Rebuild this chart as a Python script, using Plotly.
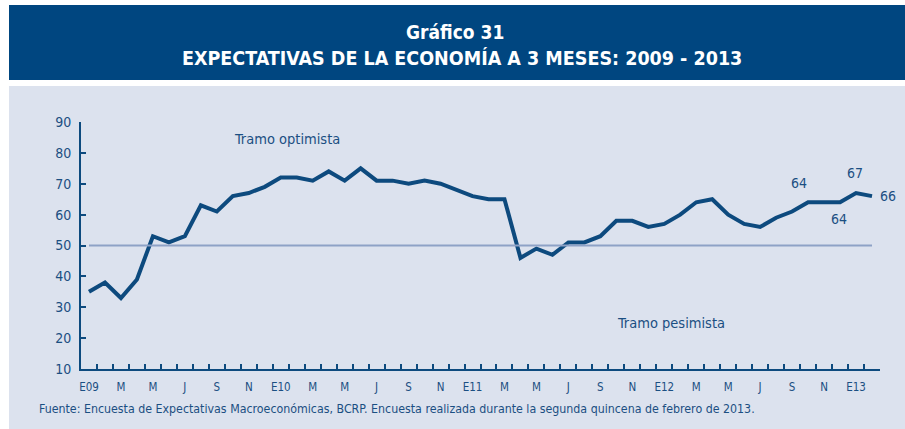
import plotly.graph_objects as go

# ---- data ----
months = [f"m{i}" for i in range(50)]  # Jan 2009 .. Feb 2013
values = [35, 38, 33, 39, 53, 51, 53, 63, 61, 66, 67, 69,
          72, 72, 71, 74, 71, 75, 71, 71, 70, 71, 70, 68,
          66, 65, 65, 46, 49, 47, 51, 51, 53, 58, 58, 56,
          57, 60, 64, 65, 60, 57, 56, 59, 61, 64, 64, 64,
          67, 66]
tick_labels = ["E09", "M", "M", "J", "S", "N",
               "E10", "M", "M", "J", "S", "N",
               "E11", "M", "M", "J", "S", "N",
               "E12", "M", "M", "J", "S", "N", "E13"]
threshold = 50

FONT = "DejaVu Sans Condensed, Liberation Sans Narrow, sans-serif"
TXT = "#1b4f82"
LINE = "#0d4a7e"
BAND = "#004680"
PANEL = "#dce2ee"

W, H = 905, 429
L, R, T, B = 81, 25, 122, 60
pw, ph = W - L - R, H - T - B


def px(x):
    return (x - L) / pw


def py(y):
    return (H - B - y) / ph


# every month gets a tick (at category boundaries); only every other is labelled
full_ticktext = []
for i in range(len(months)):
    full_ticktext.append(tick_labels[i // 2] if i % 2 == 0 else "")

fig = go.Figure()
fig.add_trace(go.Scatter(x=months, y=values, mode="lines",
                         line=dict(color=LINE, width=4), hoverinfo="skip"))
fig.add_trace(go.Scatter(x=[months[0], months[-1]], y=[threshold, threshold],
                         mode="lines", line=dict(color="#8ea2c6", width=2),
                         hoverinfo="skip"))

shapes = [
    dict(type="rect", xref="paper", yref="paper", x0=px(9), x1=px(905),
         y0=py(5), y1=py(80), fillcolor=BAND, line=dict(width=0), layer="below"),
    dict(type="rect", xref="paper", yref="paper", x0=px(9), x1=px(905),
         y0=py(86), y1=py(429), fillcolor=PANEL, line=dict(width=0), layer="below"),
]

ann = [
    dict(text="<b>Gráfico 31</b>", xref="paper", yref="paper", x=px(455), y=py(32),
         xanchor="center", yanchor="middle",
         showarrow=False, font=dict(family=FONT, size=19, color="white")),
    dict(text="<b>EXPECTATIVAS DE LA ECONOMÍA A 3 MESES: 2009 - 2013</b>", xref="paper",
         yref="paper", x=px(462), y=py(58), xanchor="center", yanchor="middle",
         showarrow=False, font=dict(family=FONT, size=19.5, color="white")),
    dict(text="Tramo optimista", xref="x", yref="y", x=12.4, y=84.6, showarrow=False,
         xanchor="center", yanchor="middle",
         font=dict(family=FONT, size=14.5, color=TXT)),
    dict(text="Tramo pesimista", xref="x", yref="y", x=36.4, y=25, showarrow=False,
         xanchor="center", yanchor="middle",
         font=dict(family=FONT, size=14.5, color=TXT)),
    dict(text="Fuente: Encuesta de Expectativas Macroeconómicas, BCRP. Encuesta realizada durante la segunda quincena de febrero de 2013.",
         xref="paper", yref="paper", x=px(37), y=py(409), xanchor="left", yanchor="middle",
         showarrow=False, font=dict(family=FONT, size=12.3, color=TXT)),
]
# data labels
for idx, dx, dy, anchor in [(45, -9, -19, "center"), (47, -1, 17, "center"),
                            (48, -1, -20, "center"), (49, 6, 0, "left")]:
    ann.append(dict(text=str(values[idx]), xref="x", yref="y", x=months[idx], y=values[idx],
                    xshift=dx, yshift=-dy, showarrow=False, xanchor=anchor, yanchor="middle",
                    font=dict(family=FONT, size=14, color=TXT)))

fig.update_layout(
    width=W, height=H, margin=dict(l=L, r=R, t=T, b=B),
    paper_bgcolor="white", plot_bgcolor="rgba(0,0,0,0)",
    showlegend=False, shapes=shapes, annotations=ann,
    xaxis=dict(type="category", range=[-0.5, 49.5], tickmode="array",
               tickvals=months, ticktext=full_ticktext, tickson="boundaries",
               tickangle=0,
               showgrid=False, zeroline=False, showline=True,
               linecolor=LINE, linewidth=2, ticks="inside", ticklen=5,
               tickcolor=LINE, tickwidth=2, ticklabelstandoff=6,
               tickfont=dict(family=FONT, size=11.5, color=TXT)),
    yaxis=dict(range=[10, 90], tickvals=list(range(10, 91, 10)), showgrid=False,
               zeroline=False, showline=True, linecolor=LINE, linewidth=2,
               ticks="inside", ticklen=5, tickcolor=LINE, tickwidth=2,
               ticklabelstandoff=5,
               tickfont=dict(family=FONT, size=14, color=TXT)),
)

fig.write_html("out.html", config={"displayModeBar": False},
               post_script="document.body.style.margin='0';")
